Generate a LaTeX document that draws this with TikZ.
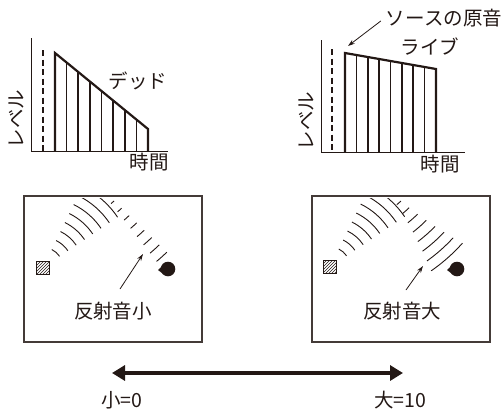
\documentclass[tikz,border=0pt]{standalone}
\usepackage{fontspec}
\setmainfont{Noto Sans CJK JP}
\usetikzlibrary{patterns,arrows.meta,calc}
\definecolor{ink}{RGB}{35,24,21}
\begin{document}
\begin{tikzpicture}[x=1pt,y=-1pt,
  lbl/.style={font=\fontsize{19.5}{19.5}\selectfont, text=ink, inner sep=0pt},
  axis/.style={draw=ink, line width=1pt},
  bar/.style={draw=ink, line width=1.7pt},
  topline/.style={draw=ink, line width=2.2pt, line join=miter},
  dashln/.style={draw=ink, line width=1.8pt, dash pattern=on 6pt off 3.5pt},
  room/.style={draw=ink!85, line width=2.5pt},
  wave/.style={draw=ink, line width=0.9pt},
  ptr/.style={draw=ink, line width=0.8pt, -{Stealth[length=7pt,width=4.5pt]}},
  spkr/.style={draw=ink, line width=0.8pt, pattern=north east lines, pattern color=ink, minimum size=13pt, inner sep=0pt},
]
\useasboundingbox (0,0) rectangle (504,413);

% ---------- left chart (dead) ----------
\coordinate (LYtop) at (31,38);
\coordinate (LO) at (31,151);
\coordinate (LXend) at (168,151);
\draw[axis] (LYtop) -- (LO) -- (LXend);
\coordinate (LDtop) at (43,50);
\coordinate (LDbot) at (43,151);
\draw[dashln] (LDtop) -- (LDbot);
\foreach \k in {1,...,7}{
  \pgfmathsetmacro{\bx}{55+\k*11.625}
  \pgfmathsetmacro{\by}{53+0.817*(\bx-55)}
  \draw[bar] (\bx,151) -- (\bx,\by);
}
\draw[topline] (55,151) -- (55,53) -- (148,129) -- (148,151);
\node[lbl] (dead) at (138,81) {デッド};
\node[lbl] (ltime) at (149,162) {時間};
\node[lbl, rotate=90] (llevel) at (16,119) {レベル};

% ---------- right chart (live) ----------
\coordinate (RYtop) at (321,40);
\coordinate (RO) at (321,152);
\coordinate (RXend) at (465,152);
\draw[axis] (RYtop) -- (RO) -- (RXend);
\coordinate (RDtop) at (332,49);
\coordinate (RDbot) at (332,152);
\draw[dashln] (RDtop) -- (RDbot);
\foreach \k in {1,...,7}{
  \pgfmathsetmacro{\bx}{345+\k*11.375}
  \pgfmathsetmacro{\by}{53+0.1758*(\bx-345)}
  \draw[bar] (\bx,152) -- (\bx,\by);
}
\draw[topline] (345,152) -- (345,53) -- (436,69) -- (436,152);
\node[lbl] (live) at (430,47) {ライブ};
\node[lbl] (rtime) at (440,164) {時間};
\node[lbl, rotate=90] (rlevel) at (306,121) {レベル};
\node[lbl] (orig) at (444,18) {ソースの原音};
\coordinate (origtip) at (348,46);
\draw[ptr] (orig.west) ++(-5,3) coordinate (origfrom) -- (origtip);

% ---------- left room ----------
\node[room, minimum width=178pt, minimum height=146pt, inner sep=0pt] (lroom) at (113,269) {};
\coordinate (LS) at (43,267.5);
\coordinate (LSm) at (43,125);
\begin{scope}
  \clip (25.5,198) rectangle (200.5,340);
  \foreach \r in {20,30,...,90}{
    \draw[wave] ([shift={(LS)}]-34:\r) arc[start angle=-34, end angle=-64, radius=\r];
  }
\end{scope}
\foreach \k in {0,...,7}{
  \pgfmathsetmacro{\r}{104+10.5*\k}
  \pgfmathsetmacro{\h}{(2+0.7*\k)/\r*57.3}
  \draw[wave] ([shift={(LSm)}]48-\h:\r) arc[start angle=48-\h, end angle=48+\h, radius=\r];
}
\node[spkr] (lspk) at (LS) {};
\coordinate (LH) at (168,269);
\fill[ink] (LH) circle (7.3pt);
\fill[ink] ($(LH)+(-10,1)$) -- ($(LH)+(-4,-4.5)$) -- ($(LH)+(-4,5.5)$) -- cycle;
\node[lbl] (lsmall) at (113,311) {反射音小};
\coordinate (LPfrom) at (120,289);
\coordinate (LPto) at (143,254);
\draw[ptr] (LPfrom) -- (LPto);

% ---------- right room ----------
\node[room, minimum width=178pt, minimum height=146pt, inner sep=0pt] (rroom) at (401,269) {};
\coordinate (RS) at (330,267);
\coordinate (RSm) at (330,125);
\begin{scope}
  \clip (313.5,198) rectangle (488.5,340);
  \foreach \r in {20,30,...,90}{
    \draw[wave] ([shift={(RS)}]-34:\r) arc[start angle=-34, end angle=-64, radius=\r];
  }
\end{scope}
\foreach \k in {0,...,7}{
  \pgfmathsetmacro{\r}{104+10.5*\k}
  \pgfmathsetmacro{\h}{1.5+0.75*\k}
  \draw[wave] ([shift={(RSm)}]48.5-\h:\r) arc[start angle=48.5-\h, end angle=48.5+\h, radius=\r];
}
\node[spkr] (rspk) at (RS) {};
\coordinate (RH) at (457,269);
\fill[ink] (RH) circle (7.3pt);
\fill[ink] ($(RH)+(-10,1)$) -- ($(RH)+(-4,-4.5)$) -- ($(RH)+(-4,5.5)$) -- cycle;
\node[lbl] (rlarge) at (402,311) {反射音大};
\coordinate (RPfrom) at (406,290);
\coordinate (RPto) at (423,266);
\draw[ptr] (RPfrom) -- (RPto);

% ---------- scale ----------
\coordinate (SL) at (112,373);
\coordinate (SR) at (403,373);
\draw[draw=ink, line width=4pt, {Triangle[length=13pt,width=15pt]}-{Triangle[length=13pt,width=15pt]}] (SL) -- (SR);
\node[lbl] (zero) at (122,400) {小=0};
\node[lbl] (ten) at (400,400) {大=10};
\end{tikzpicture}
\end{document}
